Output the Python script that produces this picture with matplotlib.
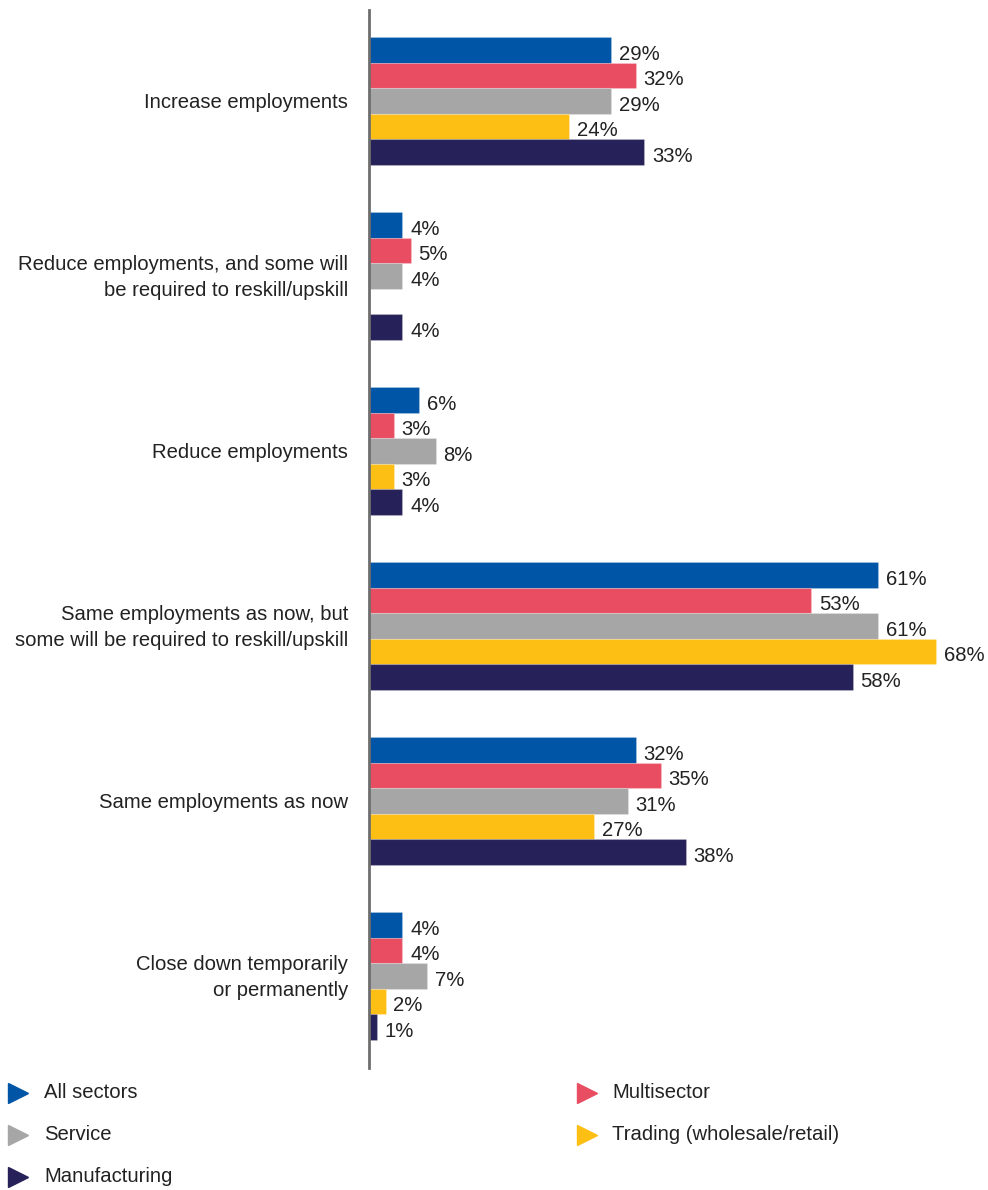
import matplotlib
matplotlib.use("Agg")
import matplotlib.pyplot as plt
import matplotlib.transforms as mtransforms
from matplotlib.lines import Line2D

plt.rcParams['font.family'] = ['Liberation Sans', 'DejaVu Sans']

categories = [
    "Increase employments",
    "Reduce employments, and some will\nbe required to reskill/upskill",
    "Reduce employments",
    "Same employments as now, but\nsome will be required to reskill/upskill",
    "Same employments as now",
    "Close down temporarily\nor permanently",
]
series_names = ["All sectors", "Multisector", "Service",
                "Trading (wholesale/retail)", "Manufacturing"]
all_sectors = [29, 4, 6, 61, 32, 4]
multisector = [32, 5, 3, 53, 35, 4]
service = [29, 4, 8, 61, 31, 7]
trading = [24, None, 3, 68, 27, 2]
manufacturing = [33, 4, 4, 58, 38, 1]
colors = ["#0055A6", "#E94D62", "#A6A6A6", "#FDBF13", "#262158"]

series = [all_sectors, multisector, service, trading, manufacturing]

FS = 14.6
fig = plt.figure(figsize=(9.88, 11.9), dpi=100)
ax = fig.add_axes([369 / 988, 1 - 1068 / 1190, 1 - 369 / 988, 1058 / 1190])

bar_h = 0.1457
for j, (vals, col) in enumerate(zip(series, colors)):
    for i, v in enumerate(vals):
        if v is None:
            continue
        y = i + (j - 2) * bar_h
        ax.barh(y, v, height=bar_h, color=col, edgecolor=(1, 1, 1, 0.2),
                linewidth=0.8)
        ax.annotate(f"{v}%", xy=(v, y), xytext=(5.5, -3),
                    textcoords="offset points", ha="left", va="center",
                    fontsize=FS, color="#222222")

ax.set_xlim(0, 74.2)
ax.set_ylim(5.526, -0.52)
ax.set_yticks([])
ax.set_xticks([])

# Category labels, right-aligned just left of the axis line
label_tf = mtransforms.blended_transform_factory(
    ax.transAxes, ax.transData) + mtransforms.ScaledTranslation(
    -21 / 100, -1.5 / 100, fig.dpi_scale_trans)
for i, cat in enumerate(categories):
    ax.text(0, i, cat, transform=label_tf, ha="right", va="center",
            multialignment="right", linespacing=1.5, fontsize=FS,
            color="#222222")

for s in ["top", "right", "bottom"]:
    ax.spines[s].set_visible(False)
ax.spines["left"].set_color("#6e6e6e")
ax.spines["left"].set_linewidth(2)

# Legend drawn as triangle markers with text in figure coordinates
legend_pos = [(18, 44, 1093), (587, 612, 1093), (18, 44, 1135),
              (587, 612, 1135), (18, 44, 1177)]
for k, (mx, tx, py) in enumerate(legend_pos):
    yf = 1 - py / 1190
    fig.add_artist(Line2D([mx / 988], [yf], marker=">", markersize=15,
                          color=colors[k], linestyle="none",
                          transform=fig.transFigure))
    fig.text(tx / 988, yf, series_names[k], fontsize=FS, color="#222222",
             ha="left", va="center")

fig.savefig("out.png", dpi=100)
